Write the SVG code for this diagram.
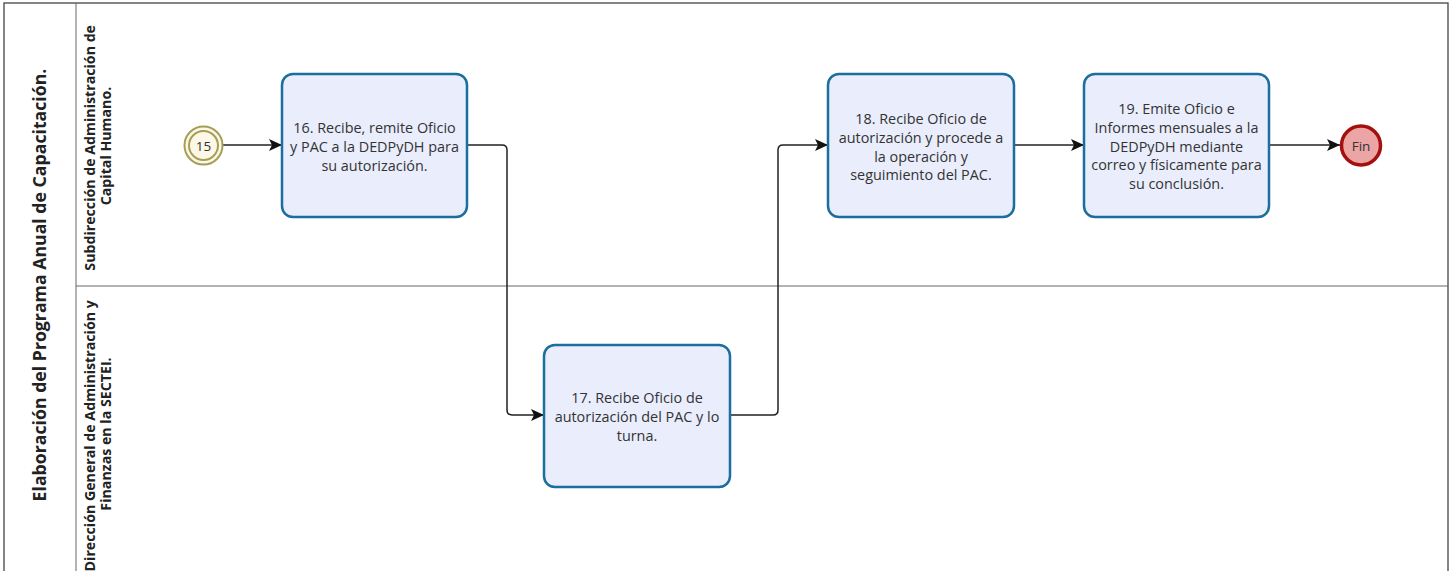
<svg xmlns="http://www.w3.org/2000/svg" width="1452" height="571" viewBox="0 0 1452 571">
  <defs>
    <marker id="arrow" markerWidth="14" markerHeight="12" refX="13" refY="6" orient="auto" markerUnits="userSpaceOnUse">
      <path d="M0,0 L13,6 L0,12 L3,6 Z" fill="#111"/>
    </marker>
  </defs>
  <style>
    .pool { fill: none; stroke: #444; stroke-width: 1.3; }
    .lane { fill: none; stroke: #666; stroke-width: 1; }
    .title { font-family: "Open Sans", "Noto Sans", sans-serif; font-size: 17.7px; font-weight: 700; fill: #222; }
    .lanelbl { font-family: "Open Sans", "Noto Sans", sans-serif; font-size: 14.2px; font-weight: 700; fill: #222; }
    .task rect { fill: #e9edfc; stroke: #1b6e9e; stroke-width: 2.5; }
    .task text { font-family: "Open Sans", "Noto Sans", sans-serif; font-size: 14.4px; fill: #333; text-anchor: middle; }
    .conn { fill: none; stroke: #222; stroke-width: 1.5; marker-end: url(#arrow); }
    .evt text { font-family: "Open Sans", "Noto Sans", sans-serif; font-size: 13.5px; fill: #333; text-anchor: middle; }
  </style>

  <!-- pool and lanes -->
  <g id="pool">
    <rect class="pool" x="4" y="3" width="1444" height="580"/>
    <line class="lane" x1="76" y1="3" x2="76" y2="583"/>
    <line class="lane" x1="76" y1="286" x2="1448" y2="286"/>
    <text class="title" transform="translate(46,285) rotate(-90)" text-anchor="middle">Elaboración del Programa Anual de Capacitación.</text>
  </g>
  <g id="lane-sach">
    <text class="lanelbl" transform="translate(95,146) rotate(-90)" text-anchor="middle">
      <tspan x="0" y="0">Subdirección de Administración de</tspan>
      <tspan x="0" y="15.5">Capital Humano.</tspan>
    </text>
  </g>
  <g id="lane-dgaf">
    <text class="lanelbl" transform="translate(95,434) rotate(-90)" text-anchor="middle">
      <tspan x="0" y="0">Dirección General de Administración y</tspan>
      <tspan x="0" y="15.5">Finanzas en la SECTEI.</tspan>
    </text>
  </g>

  <!-- connectors -->
  <g id="connectors">
    <path class="conn" d="M223,145 L282,145"/>
    <path class="conn" d="M467,145 L502,145 Q507,145 507,150 L507,410 Q507,415 512,415 L544,415"/>
    <path class="conn" d="M730,415 L773,415 Q778,415 778,410 L778,150 Q778,145 783,145 L828,145"/>
    <path class="conn" d="M1014,145 L1084,145"/>
    <path class="conn" d="M1269,145 L1340,145"/>
  </g>

  <!-- start event -->
  <g id="start-15" class="evt">
    <circle cx="203.5" cy="145.5" r="19" fill="#fcf7e6" stroke="#a59f55" stroke-width="2"/>
    <circle cx="203.5" cy="145.5" r="14.5" fill="#fcf7e6" stroke="#a59f55" stroke-width="2"/>
    <text x="203.5" y="150.5">15</text>
  </g>

  <!-- tasks -->
  <g id="task-16" class="task">
    <rect x="282" y="74" width="185" height="143" rx="11"/>
    <text x="374.5" y="132.5">16. Recibe, remite Oficio</text>
    <text x="374.5" y="151.5">y PAC a la DEDPyDH para</text>
    <text x="374.5" y="170.5">su autorización.</text>
  </g>
  <g id="task-17" class="task">
    <rect x="544" y="345" width="186" height="142" rx="11"/>
    <text x="637" y="402.5">17. Recibe Oficio de</text>
    <text x="637" y="421.5">autorización del PAC y lo</text>
    <text x="637" y="440.5">turna.</text>
  </g>
  <g id="task-18" class="task">
    <rect x="828" y="74" width="186" height="143" rx="11"/>
    <text x="921" y="123.5">18. Recibe Oficio de</text>
    <text x="921" y="142.5">autorización y procede a</text>
    <text x="921" y="161.5">la operación y</text>
    <text x="921" y="179.5">seguimiento del PAC.</text>
  </g>
  <g id="task-19" class="task">
    <rect x="1084" y="74" width="185" height="143" rx="11"/>
    <text x="1176.5" y="113.5">19. Emite Oficio e</text>
    <text x="1176.5" y="132.5">Informes mensuales a la</text>
    <text x="1176.5" y="151.5">DEDPyDH mediante</text>
    <text x="1176.5" y="169.5">correo y físicamente para</text>
    <text x="1176.5" y="188.5">su conclusión.</text>
  </g>

  <!-- end event -->
  <g id="end-fin" class="evt">
    <circle cx="1361" cy="145.5" r="19.5" fill="#eba5a5" stroke="#a5100f" stroke-width="3.5"/>
    <text x="1361" y="150.5">Fin</text>
  </g>
</svg>
